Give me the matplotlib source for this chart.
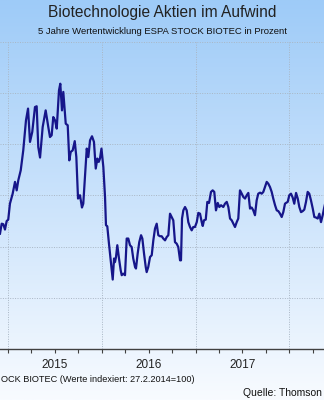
import numpy as np
import matplotlib
matplotlib.use('Agg')
import matplotlib.pyplot as plt
from matplotlib.ticker import FixedLocator, FuncFormatter

plt.rcParams['font.family'] = ['Liberation Sans', 'DejaVu Sans']

# Zeitachse in Dezimaljahren, Werte indexiert (27.2.2014 = 100)
years = [2014.915, 2014.933, 2014.950, 2014.968, 2014.986, 2015.003, 2015.021, 2015.050, 2015.075, 2015.093,
         2015.110, 2015.136, 2015.163, 2015.192, 2015.214, 2015.235, 2015.259, 2015.288, 2015.306, 2015.323,
         2015.342, 2015.370, 2015.402, 2015.430, 2015.448, 2015.466, 2015.483, 2015.502, 2015.520, 2015.544,
         2015.558, 2015.576, 2015.590, 2015.616, 2015.637, 2015.654, 2015.669, 2015.690, 2015.712, 2015.729,
         2015.747, 2015.768, 2015.789, 2015.803, 2015.825, 2015.840, 2015.857, 2015.875, 2015.896, 2015.917,
         2015.936, 2015.953, 2015.968, 2015.981, 2015.997, 2016.017, 2016.035, 2016.045, 2016.059, 2016.077,
         2016.099, 2016.117, 2016.131, 2016.141, 2016.152, 2016.166, 2016.184, 2016.202, 2016.213, 2016.230,
         2016.248, 2016.266, 2016.283, 2016.301, 2016.319, 2016.336, 2016.355, 2016.365, 2016.383, 2016.400,
         2016.419, 2016.433, 2016.451, 2016.469, 2016.479, 2016.496, 2016.515, 2016.533, 2016.550, 2016.568,
         2016.586, 2016.603, 2016.621, 2016.639, 2016.656, 2016.675, 2016.693, 2016.710, 2016.728, 2016.746,
         2016.763, 2016.781, 2016.799, 2016.816, 2016.835, 2016.845, 2016.856, 2016.870, 2016.888, 2016.906,
         2016.923, 2016.941, 2016.959, 2016.976, 2016.994, 2017.013, 2017.030, 2017.048, 2017.066, 2017.077,
         2017.090, 2017.109, 2017.126, 2017.144, 2017.165, 2017.183, 2017.200, 2017.218, 2017.237, 2017.254,
         2017.272, 2017.296, 2017.314, 2017.333, 2017.350, 2017.368, 2017.386, 2017.403, 2017.421, 2017.439,
         2017.456, 2017.474, 2017.493, 2017.510, 2017.528, 2017.546, 2017.563, 2017.581, 2017.599, 2017.616,
         2017.634, 2017.652, 2017.669, 2017.688, 2017.706, 2017.723, 2017.741, 2017.759, 2017.776, 2017.794,
         2017.812, 2017.829, 2017.848, 2017.866, 2017.883, 2017.901, 2017.919, 2017.936, 2017.954, 2017.965,
         2017.983, 2018.000, 2018.018, 2018.036, 2018.053, 2018.072, 2018.090, 2018.107, 2018.125, 2018.143,
         2018.160, 2018.178, 2018.196, 2018.213, 2018.231, 2018.250, 2018.267, 2018.285, 2018.303, 2018.320,
         2018.338, 2018.356, 2018.370, 2018.402]

values = [125.1, 129.0, 128.8, 126.7, 130.0, 130.6, 136.8, 140.7, 145.3, 142.0,
          145.9, 149.8, 157.6, 169.3, 173.9, 160.9, 164.8, 174.5, 174.8, 158.9,
          154.8, 166.7, 173.2, 166.7, 162.8, 163.5, 170.6, 169.3, 166.1, 181.0,
          183.6, 173.2, 180.4, 168.0, 167.4, 153.7, 157.0, 157.6, 161.2, 155.0,
          138.8, 140.1, 135.3, 136.8, 149.8, 158.3, 155.0, 161.5, 163.1, 160.9,
          150.5, 154.4, 153.1, 154.4, 158.3, 151.1, 139.4, 128.4, 128.0, 121.2,
          113.4, 107.2, 115.4, 114.0, 116.0, 120.6, 115.4, 110.8, 108.9, 109.5,
          108.9, 123.2, 123.2, 120.6, 119.9, 115.4, 112.1, 111.5, 117.3, 121.8,
          124.5, 123.2, 117.3, 112.1, 110.1, 112.1, 116.0, 116.7, 122.5, 127.1,
          129.0, 124.5, 124.1, 124.1, 123.2, 122.5, 123.8, 124.5, 132.9, 131.6,
          130.3, 121.8, 121.2, 119.9, 114.7, 114.7, 131.0, 134.2, 135.5, 134.2,
          129.6, 127.7, 126.4, 127.7, 127.7, 129.6, 133.2, 132.9, 129.6, 128.1,
          130.3, 130.6, 137.5, 137.1, 141.4, 142.0, 141.4, 134.2, 137.1, 135.5,
          136.2, 135.5, 136.8, 137.5, 135.5, 131.0, 130.3, 129.0, 127.7, 129.6,
          131.0, 142.0, 140.7, 139.4, 138.8, 140.1, 141.0, 134.9, 135.3, 134.2,
          132.3, 138.1, 140.7, 141.1, 140.7, 141.4, 143.3, 145.3, 144.6, 143.3,
          141.4, 138.8, 136.2, 134.2, 133.9, 132.9, 131.6, 133.5, 136.8, 137.1,
          137.5, 140.1, 140.7, 139.2, 136.8, 141.0, 138.8, 135.5, 133.5, 133.9,
          134.5, 137.5, 141.4, 140.7, 138.1, 134.9, 131.6, 131.4, 131.0, 132.9,
          129.6, 132.3, 134.9, 140.0]

year_ticks = [2015, 2016, 2017, 2018]
quarter_ticks = [2014.75, 2015.25, 2015.5, 2015.75, 2016.25, 2016.5, 2016.75,
                 2017.25, 2017.5, 2017.75, 2018.25, 2018.5]
year_labels = {2015.5: '2015', 2016.5: '2016', 2017.5: '2017', 2018.5: '2018'}
y_grid = [80, 100, 120, 140, 160, 180, 200]

fig = plt.figure(figsize=(3.24, 4.0), dpi=100)

# Hintergrund mit Farbverlauf
bg = fig.add_axes([0, 0, 1, 1], zorder=-10)
grad = np.linspace(0, 1, 256).reshape(-1, 1)
top = np.array([158, 203, 248]) / 255
bottom = np.array([248, 251, 255]) / 255
img = top + grad[..., None] * (bottom - top)
bg.imshow(img, aspect='auto', extent=[0, 1, 0, 1])
bg.set_axis_off()

ax = fig.add_axes([0, 0.1268, 1, 0.769])
ax.set_facecolor('none')
ax.plot(years, values, color='#16168a', lw=1.6, solid_joinstyle='round', zorder=3)

ax.set_xlim(2014.915, 2018.370)
ax.set_ylim(80, 200)

ax.xaxis.set_major_locator(FixedLocator(year_ticks))
ax.xaxis.set_minor_locator(FixedLocator(quarter_ticks))
ax.xaxis.set_major_formatter(FuncFormatter(lambda v, p: ''))
ax.xaxis.set_minor_formatter(FuncFormatter(lambda v, p: year_labels.get(round(v, 2), '')))
ax.tick_params(axis='x', which='both', direction='out', length=3, width=0.8,
               color='#404040', labelsize=8.5, labelcolor='#222222', pad=4)
ax.yaxis.set_major_locator(FixedLocator(y_grid))
ax.tick_params(axis='y', which='both', left=False, labelleft=False)

ax.grid(True, which='major', color='#a9b6c4', lw=0.7, linestyle=(0, (1, 1.5)))

for s in ['left', 'right', 'top']:
    ax.spines[s].set_visible(False)
ax.spines['bottom'].set_color('#404040')
ax.spines['bottom'].set_linewidth(1.0)

fig.text(0.5, 1 - 12.5 / 400, 'Biotechnologie Aktien im Aufwind', ha='center', va='center',
         fontsize=11.2, color='#222222')
fig.text(0.5, 1 - 31 / 400, '5 Jahre Wertentwicklung ESPA STOCK BIOTEC in Prozent',
         ha='center', va='center', fontsize=6.8, color='#111111')
# Bildausschnitt: nur der sichtbare Teil der Fusszeilen
fig.text(1 / 324, 1 - 380 / 400, 'OCK BIOTEC (Werte indexiert: 27.2.2014=100)',
         ha='left', va='center', fontsize=6.6, color='#111111')
fig.text(243 / 324, 1 - 393.5 / 400, 'Quelle: Thomson', ha='left', va='center',
         fontsize=7.5, color='#111111')

fig.savefig('out.png', dpi=100)
